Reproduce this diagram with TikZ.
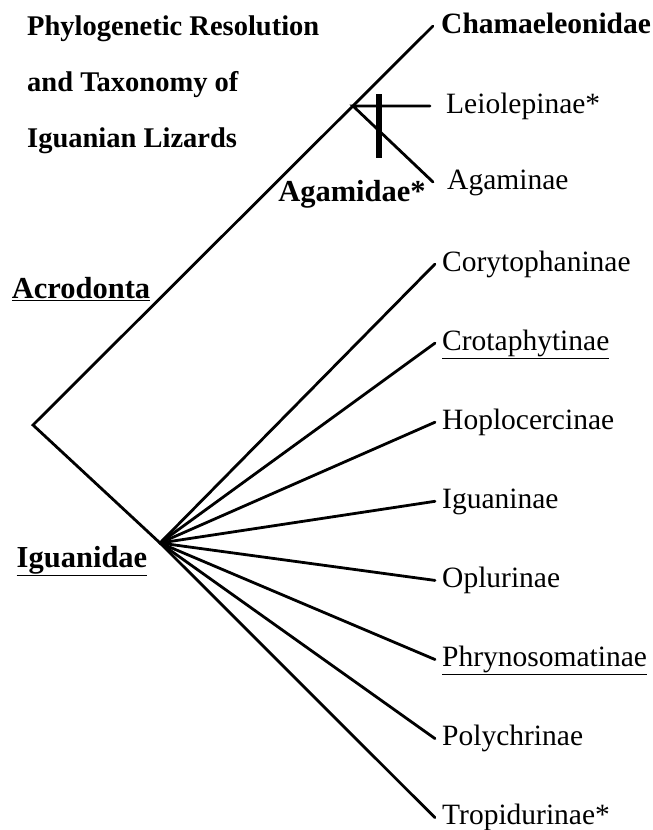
\documentclass[tikz,border=0pt]{standalone}
\usepackage{fontspec}
\setmainfont{Liberation Serif}
\begin{document}
\begin{tikzpicture}[x=1pt,y=-1pt,
  branch/.style={line width=2.8pt,line cap=round},
  taxon/.style={anchor=west,inner ysep=0pt,inner xsep=7pt,text height=19pt,text depth=5pt,font=\fontsize{29.5}{32}\selectfont},
  clade/.style={anchor=base,inner sep=0pt,font=\fontsize{30.5}{33}\selectfont\bfseries},
  headline/.style={anchor=base west,inner sep=0pt,font=\fontsize{28.5}{31}\selectfont\bfseries}]
\useasboundingbox (0,0) rectangle (653,830);
% title
\node[headline] (head1) at (27,35) {Phylogenetic Resolution};
\node[headline] (head2) at (27,91) {and Taxonomy of};
\node[headline] (head3) at (27,147) {Iguanian Lizards};
% internal nodes of the tree
\coordinate (root) at (33,425);
\coordinate (iguana) at (160,543);
\coordinate (agama) at (353,106);
% Acrodonta
\node[taxon,font=\fontsize{29.5}{32}\selectfont\bfseries,inner xsep=8pt] (cham) at (433,26) {Chamaeleonidae};
\node[taxon,inner xsep=16pt] (leio) at (430,106) {Leiolepinae*};
\node[taxon,inner xsep=14pt] (agam) at (433,182) {Agaminae};
\draw[branch] (iguana) -- (root) -- (cham.west);
\draw[branch] (leio.west) -- (agama) -- (agam.west);
\coordinate (bartop) at (379,94);
\coordinate (barbot) at (379,158);
\draw[line width=6pt] (bartop) -- (barbot);
% Iguanidae
\foreach \lbl [count=\i from 0] in {Corytophaninae,{\underline{Crotaphytinae}},Hoplocercinae,Iguaninae,Oplurinae,{\underline{Phrynosomatinae}},Polychrinae,Tropidurinae*}
{
  \node[taxon] (igl\i) at (435,264+79.1*\i) {\lbl};
  \draw[branch] (iguana) -- (igl\i.west);
}
% clade names
\node[clade] (agamidae) at (352,201) {Agamidae*};
\node[clade] (acro) at (81,298) {\underline{Acrodonta}};
\node[clade] (igua) at (82,567) {\underline{Iguanidae}};
\end{tikzpicture}
\end{document}
